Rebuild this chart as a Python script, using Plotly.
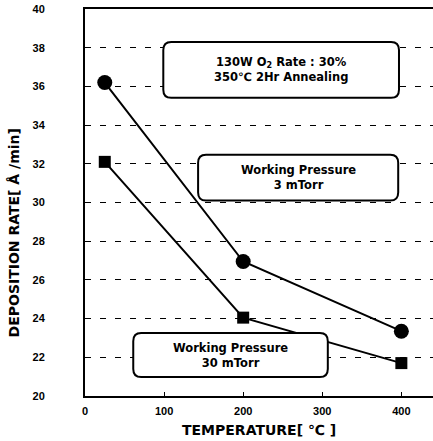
import plotly.graph_objects as go

# Data
temps = [25, 200, 400]
rate_3mtorr = [36.2, 26.95, 23.35]
rate_30mtorr = [32.1, 24.05, 21.7]
x_ticks = [0, 100, 200, 300, 400]
y_ticks = [20, 22, 24, 26, 28, 30, 32, 34, 36, 38, 40]

FONT = "Liberation Sans"
TFONT = "DejaVu Sans"

fig = go.Figure()
fig.add_trace(go.Scatter(x=temps, y=rate_3mtorr, mode="lines+markers",
                         line=dict(color="black", width=2),
                         marker=dict(symbol="circle", size=15, color="black"),
                         showlegend=False))
fig.add_trace(go.Scatter(x=temps, y=rate_30mtorr, mode="lines+markers",
                         line=dict(color="black", width=2),
                         marker=dict(symbol="square", size=12, color="black"),
                         showlegend=False))


def rounded(x0, x1, y0, y1, rx=10, ry=0.42):
    return (f"M{x0+rx},{y1} L{x1-rx},{y1} Q{x1},{y1} {x1},{y1-ry} "
            f"L{x1},{y0+ry} Q{x1},{y0} {x1-rx},{y0} L{x0+rx},{y0} "
            f"Q{x0},{y0} {x0},{y0+ry} L{x0},{y1-ry} Q{x0},{y1} {x0+rx},{y1} Z")


boxes = [
    (99, 397, 35.41, 38.30, "130W O<sub>2</sub> Rate : 30%<br>350℃ 2Hr Annealing"),
    (143, 396, 30.10, 32.47, "Working Pressure<br>3 mTorr"),
    (61, 307, 20.98, 23.25, "Working Pressure<br>30 mTorr"),
]
for x0, x1, y0, y1, txt in boxes:
    fig.add_shape(type="path", path=rounded(x0, x1, y0, y1), xref="x", yref="y",
                  fillcolor="white", line=dict(color="black", width=2), layer="above")
    fig.add_annotation(x=(x0 + x1) / 2, y=(y0 + y1) / 2, xref="x", yref="y",
                       text=txt, showarrow=False,
                       font=dict(family=TFONT, size=11.5, color="black", weight="bold"))

# axis titles
fig.add_annotation(x=0.5, y=0, xref="paper", yref="paper", yshift=-34,
                   xanchor="center", yanchor="middle",
                   text="TEMPERATURE[ ℃ ]", showarrow=False,
                   font=dict(family=TFONT, size=14, color="black", weight="bold"))
fig.add_annotation(x=0, y=0.42, xref="paper", yref="paper", xshift=-71,
                   xanchor="center", yanchor="middle",
                   text="DEPOSITION RATE[ Å /min]", showarrow=False, textangle=-90,
                   font=dict(family=TFONT, size=14, color="black", weight="bold"))

fig.update_layout(
    width=433, height=441,
    margin=dict(l=85, r=0, t=9, b=45),
    plot_bgcolor="white", paper_bgcolor="white",
    xaxis=dict(range=[0, 440], tickvals=x_ticks, showline=True, linecolor="black",
               linewidth=2, mirror=True, ticks="inside", ticklen=4, tickcolor="black",
               showgrid=False, zeroline=False, ticklabelstandoff=4,
               tickfont=dict(family=FONT, size=11, color="black", weight="bold")),
    yaxis=dict(range=[20, 40], tickvals=y_ticks, showline=True, linecolor="black",
               linewidth=2, mirror=False, ticks="inside", ticklen=4, tickcolor="black",
               showgrid=True, gridcolor="black", griddash="6px,9px", gridwidth=1,
               zeroline=False, ticklabelstandoff=36,
               tickfont=dict(family=FONT, size=11, color="black", weight="bold")),
)

fig.write_html("out.html")
